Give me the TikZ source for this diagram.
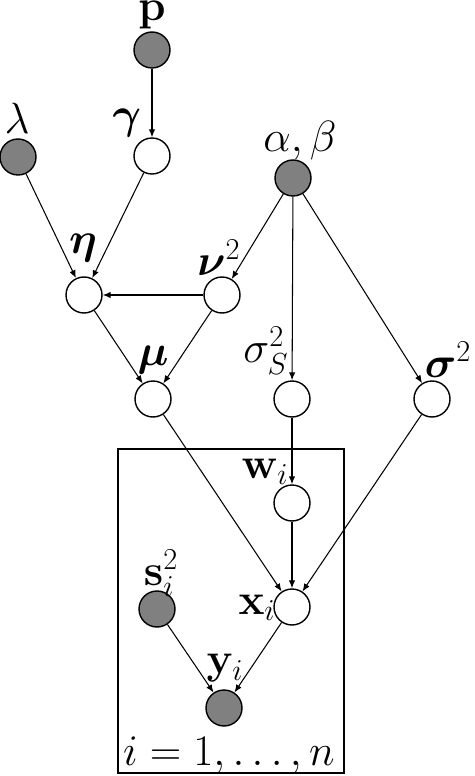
\documentclass[tikz,border=0pt]{standalone}
\usepackage{amsmath,amssymb}
\usetikzlibrary{arrows.meta}

\begin{document}
\begin{tikzpicture}[x=0.02cm, y=-0.02cm, >={Latex[length=4.5pt,width=3.6pt]},
	every node/.style={font=\fontsize{25}{30}\selectfont},
	latent/.style={circle, draw, line width=0.8pt, fill=white, minimum size=0.72cm, inner sep=0pt},
	obs/.style={latent, fill=gray},
	lbl/.style={inner sep=0pt},
	edge/.style={->, line width=0.6pt}]
	\useasboundingbox (0,0) rectangle (474,776);
	\draw[line width=0.9pt] (118,449) rectangle (344,773);
	\node[obs] (p) at (152,50) {};
	\node[latent] (gamma) at (152,156) {};
	\node[obs] (lambda) at (18,157) {};
	\node[obs] (ab) at (293,178) {};
	\node[latent] (eta) at (84,295) {};
	\node[latent] (nu) at (222,295) {};
	\node[latent] (mu) at (153,399) {};
	\node[latent] (sigS) at (292,399) {};
	\node[latent] (sig) at (432,399) {};
	\node[latent] (w) at (292,503) {};
	\node[latent] (x) at (292,607) {};
	\node[obs] (s) at (157,609) {};
	\node[obs] (y) at (224,708) {};
	\node[lbl] (pL) at (152,15) {$\mathbf{p}$};
	\node[lbl] (gammaL) at (127,123) {$\boldsymbol{\gamma}$};
	\node[lbl] (lambdaL) at (17,118) {$\lambda$};
	\node[lbl] (abL) at (300,141) {$\alpha,\beta$};
	\node[lbl] (etaL) at (83,248) {$\boldsymbol{\eta}$};
	\node[lbl] (nuL) at (219,258) {$\boldsymbol{\nu}^2$};
	\node[lbl] (muL) at (153,360) {$\boldsymbol{\mu}$};
	\node[lbl] (sigSL) at (266,351) {$\sigma_S^2$};
	\node[lbl] (sigL) at (448,360) {$\boldsymbol{\sigma}^2$};
	\node[lbl] (wL) at (265,472) {$\mathbf{w}_i$};
	\node[lbl] (xL) at (257,608) {$\mathbf{x}_i$};
	\node[lbl] (sL) at (161,573) {$\mathbf{s}_i^2$};
	\node[lbl] (yL) at (225,668) {$\mathbf{y}_i$};
	\node[lbl] (plateL) at (229,755) {$i=1,\ldots,n$};
	\draw[edge] (p) -- (gamma);
	\draw[edge] (lambda) -- (eta);
	\draw[edge] (gamma) -- (eta);
	\draw[edge] (ab) -- (nu);
	\draw[edge] (ab) -- (sigS);
	\draw[edge] (ab) -- (sig);
	\draw[edge] (nu) -- (eta);
	\draw[edge] (eta) -- (mu);
	\draw[edge] (nu) -- (mu);
	\draw[edge] (mu) -- (x);
	\draw[edge] (sigS) -- (w);
	\draw[edge] (w) -- (x);
	\draw[edge] (sig) -- (x);
	\draw[edge] (s) -- (y);
	\draw[edge] (x) -- (y);
\end{tikzpicture}
\end{document}
